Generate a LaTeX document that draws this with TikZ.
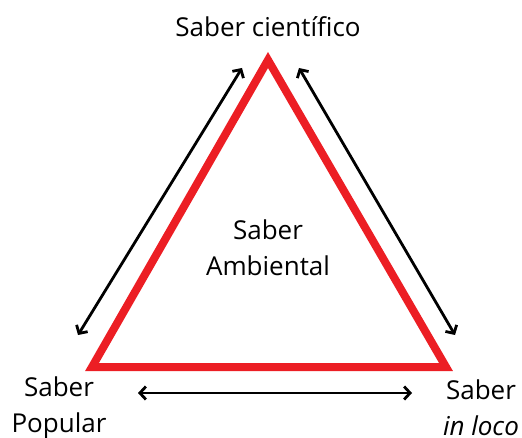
\documentclass[tikz,border=0pt]{standalone}
\usepackage{fontspec}
\setmainfont{Open Sans}
\usetikzlibrary{arrows.meta}
\definecolor{trired}{RGB}{236,30,36}
\begin{document}
\begin{tikzpicture}[x=1pt, y=-1pt, line join=miter]
	
	\useasboundingbox (0, 0) rectangle (522, 438);
	
	\coordinate (A) at (268, 60);
	\coordinate (P) at (92, 367);
	\coordinate (L) at (446, 367);
	\coordinate (AP_start) at (242, 68);
	\coordinate (AP_end) at (78, 335);
	\coordinate (AL_start) at (299, 68);
	\coordinate (AL_end) at (455, 335);
	\coordinate (PL_start) at (138, 393);
	\coordinate (PL_end) at (412, 393);
	
	% Triangle in red
	\draw[trired, line width=8pt] (A) -- (P) -- (L) -- cycle;
	
	% Double arrows in black
	\foreach \s/\e in {AP_start/AP_end, AL_start/AL_end, PL_start/PL_end} {
		\draw[{Straight Barb[length=6pt, width=13pt]}-{Straight Barb[length=6pt, width=13pt]}, line width=2.8pt, line cap=round] (\s) -- (\e);
	}
	
	% Labels
	\node[font=\fontsize{26}{36}\selectfont, align=center] (sc) at (268, 27) {Saber científico};
	\node[font=\fontsize{26}{36}\selectfont, align=center] (sa) at (268, 248) {Saber\\Ambiental};
	\node[font=\fontsize{26}{36}\selectfont, align=center] (sp) at (59, 408) {Saber\\Popular};
	\node[font=\fontsize{26}{36}\selectfont, align=center] (si) at (481, 408) {Saber\\\textit{in loco}};
	
\end{tikzpicture}
\end{document}
